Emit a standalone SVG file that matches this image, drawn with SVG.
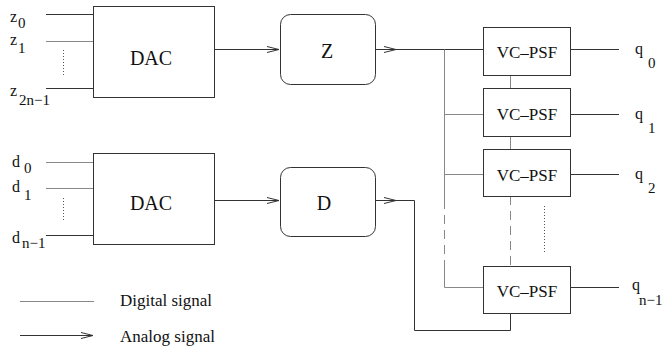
<svg xmlns="http://www.w3.org/2000/svg" width="671" height="348" viewBox="0 0 671 348" font-family="'Liberation Serif', 'DejaVu Serif', serif">
<style>
.box{fill:#fff;stroke:#333;stroke-width:1}
.an{fill:none;stroke:#333;stroke-width:1}
.dg{fill:none;stroke:#888;stroke-width:1}
.dash{stroke-dasharray:9 6}
.dot{fill:none;stroke:#555;stroke-width:1;stroke-dasharray:1 2}
text{font-family:'Liberation Serif','DejaVu Serif',serif;fill:#111}
.big{font-size:20px;text-anchor:middle}
.vc{font-size:17px;text-anchor:middle}
.lab{font-size:16px}
.sub{font-size:15px}
.leg{font-size:17px}
</style>
<defs>
<marker id="ar" markerWidth="14" markerHeight="8" refX="12" refY="4" orient="auto" markerUnits="userSpaceOnUse">
<path d="M0,1 L12,4 L0,7" fill="none" stroke="#333" stroke-width="1"/>
</marker>
</defs>
<g id="connectors">
<line class="an" x1="46" y1="14.5" x2="93" y2="14.5"/>
<line class="dg" x1="46" y1="41.5" x2="93" y2="41.5"/>
<line class="an" x1="46" y1="88.5" x2="93" y2="88.5"/>
<line class="dot" x1="63.5" y1="50" x2="63.5" y2="75"/>
<line class="dg" x1="46" y1="162.5" x2="93" y2="162.5"/>
<line class="dg" x1="46" y1="188.5" x2="93" y2="188.5"/>
<line class="an" x1="46" y1="235.5" x2="93" y2="235.5"/>
<line class="dot" x1="63.5" y1="198" x2="63.5" y2="222"/>
<line class="an" x1="215" y1="49.5" x2="279" y2="49.5" marker-end="url(#ar)"/>
<line class="an" x1="215" y1="200.5" x2="279" y2="200.5" marker-end="url(#ar)"/>
<line class="an" x1="376" y1="49.5" x2="396" y2="49.5" marker-end="url(#ar)"/>
<line class="an" x1="396" y1="49.5" x2="483" y2="49.5"/>
<line class="dg" x1="444.5" y1="49.5" x2="444.5" y2="200"/>
<line class="dg dash" x1="444.5" y1="200" x2="444.5" y2="267"/>
<line class="dg" x1="444.5" y1="267" x2="444.5" y2="287.5"/>
<line class="dg" x1="444.5" y1="114.5" x2="483" y2="114.5"/>
<line class="dg" x1="444.5" y1="174.5" x2="483" y2="174.5"/>
<line class="dg" x1="444.5" y1="287.5" x2="483" y2="287.5"/>
<line class="dg" x1="510.5" y1="75" x2="510.5" y2="88"/>
<line class="dg" x1="510.5" y1="136" x2="510.5" y2="149"/>
<line class="dg dash" x1="510.5" y1="196" x2="510.5" y2="266"/>
<line class="dot" x1="544.5" y1="206" x2="544.5" y2="254"/>
<line class="an" x1="376" y1="200.5" x2="396" y2="200.5" marker-end="url(#ar)"/>
<polyline class="an" points="396,200.5 414.5,200.5 414.5,330.5 510.5,330.5 510.5,313"/>
<line class="an" x1="571" y1="49.5" x2="619" y2="49.5"/>
<line class="an" x1="571" y1="114.5" x2="619" y2="114.5"/>
<line class="an" x1="571" y1="174.5" x2="619" y2="174.5"/>
<line class="an" x1="571" y1="287.5" x2="619" y2="287.5"/>
</g>
<g id="dac1">
<rect class="box" x="93.5" y="6.5" width="121" height="91"/>
<text class="big" x="151" y="65">DAC</text>
</g>
<g id="dac2">
<rect class="box" x="93.5" y="153.5" width="121" height="91"/>
<text class="big" x="151" y="210">DAC</text>
</g>
<g id="z">
<rect class="box" x="280.5" y="14.5" width="95" height="70" rx="10"/>
<text class="big" x="327" y="58">Z</text>
</g>
<g id="d">
<rect class="box" x="280.5" y="167.5" width="95" height="69" rx="10"/>
<text class="big" x="324" y="210">D</text>
</g>
<g id="vc0">
<rect class="box" x="483.5" y="27.5" width="87" height="48"/>
<text class="vc" x="527" y="58">VC–PSF</text>
</g>
<g id="vc1">
<rect class="box" x="483.5" y="88.5" width="87" height="48"/>
<text class="vc" x="527" y="120">VC–PSF</text>
</g>
<g id="vc2">
<rect class="box" x="483.5" y="149.5" width="87" height="47"/>
<text class="vc" x="527" y="181">VC–PSF</text>
</g>
<g id="vc3">
<rect class="box" x="483.5" y="266.5" width="87" height="47"/>
<text class="vc" x="527" y="297">VC–PSF</text>
</g>
<g id="inputs">
<text class="lab" x="10" y="22">z</text><text class="sub" x="18" y="28">0</text>
<text class="lab" x="10" y="45">z</text><text class="sub" x="18" y="53">1</text>
<text class="lab" x="10" y="96">z</text><text class="sub" x="19" y="105">2n−1</text>
<text class="lab" x="12" y="167">d</text><text class="sub" x="24" y="173">0</text>
<text class="lab" x="12" y="192">d</text><text class="sub" x="24" y="200">1</text>
<text class="lab" x="12" y="243">d</text><text class="sub" x="22" y="248">n−1</text>
</g>
<g id="outputs">
<text class="lab" x="635" y="54">q</text><text class="sub" x="648" y="68">0</text>
<text class="lab" x="635" y="119">q</text><text class="sub" x="648" y="133">1</text>
<text class="lab" x="635" y="179">q</text><text class="sub" x="648" y="193">2</text>
<text class="lab" x="632" y="290">q</text><text class="sub" x="639" y="305">n−1</text>
</g>
<g id="legend">
<line class="dg" x1="20" y1="301.5" x2="94" y2="301.5"/>
<line class="an" x1="20" y1="335.5" x2="93" y2="335.5" marker-end="url(#ar)"/>
<text class="leg" x="120" y="306">Digital signal</text>
<text class="leg" x="120" y="342">Analog signal</text>
</g>
</svg>
